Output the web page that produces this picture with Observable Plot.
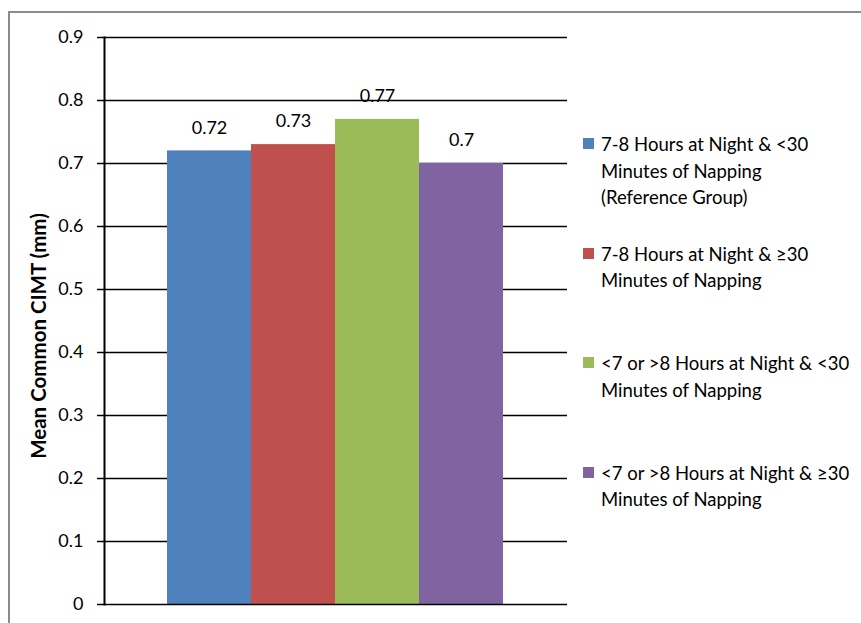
<!DOCTYPE html>
<html>
<head>
<meta charset="utf-8">
<script src="https://cdn.jsdelivr.net/npm/d3@7"></script>
<script src="https://cdn.jsdelivr.net/npm/@observablehq/plot@0.6"></script>
<style>
  body { margin: 0; background: #fff; }
  #wrap { position: relative; width: 861px; height: 623px; overflow: hidden; font-family: Lato, "Open Sans", sans-serif; }
  #border { position: absolute; left: 8px; top: 11px; width: 900px; height: 700px; border-left: 2px solid #8c8c8c; border-top: 2px solid #8c8c8c; box-sizing: border-box; }
  #chart { position: absolute; left: 0; top: 0; }
  #legend { position: absolute; left: 583px; top: 131px; }
  .item { position: relative; height: 109.5px; }
  .swatch { position: absolute; left: 0; top: 7px; width: 11px; height: 11px; }
  .label { position: absolute; left: 18px; top: 0; font-size: 18.5px; line-height: 26.5px; color: #000; white-space: nowrap; }
</style>
</head>
<body>
<div id="wrap">
  <div id="border"></div>
  <div id="chart"></div>
  <div id="legend"></div>
</div>
<script>
// Mean common carotid intima-media thickness by sleep / napping group
const groups = [
  "7-8 Hours at Night & <30 Minutes of Napping (Reference Group)",
  "7-8 Hours at Night & ≥30 Minutes of Napping",
  "<7 or >8 Hours at Night & <30 Minutes of Napping",
  "<7 or >8 Hours at Night & ≥30 Minutes of Napping"
];
const legendLines = [
  ["7-8 Hours at Night & <30", "Minutes of Napping", "(Reference Group)"],
  ["7-8 Hours at Night & ≥30", "Minutes of Napping"],
  ["<7 or >8 Hours at Night & <30", "Minutes of Napping"],
  ["<7 or >8 Hours at Night & ≥30", "Minutes of Napping"]
];
const cimt = [0.72, 0.73, 0.77, 0.7];
const colors = ["#4F81BD", "#C0504D", "#9BBB59", "#8064A2"];
const yTicks = [0, 0.1, 0.2, 0.3, 0.4, 0.5, 0.6, 0.7, 0.8, 0.9];

const data = groups.map((g, i) => ({group: g, value: cimt[i]}));

const chart = Plot.plot({
  width: 861,
  height: 623,
  marginLeft: 104,
  marginRight: 294,
  marginTop: 37,
  marginBottom: 19,
  style: {fontFamily: "Lato, 'Open Sans', sans-serif", fontSize: "18px", background: "transparent", color: "#000"},
  x: {domain: groups, range: [167, 503], padding: 0, axis: null},
  y: {domain: [0, 0.9], ticks: yTicks, label: null},
  color: {domain: groups, range: colors},
  marks: [
    Plot.ruleY(yTicks.slice(1), {stroke: "#000", strokeWidth: 1.5}),
    Plot.barY(data, {x: "group", y: "value", fill: "group"}),
    Plot.text(data, {x: "group", y: "value", text: d => String(d.value), dy: -23, fontSize: 18, fill: "#000"}),
    Plot.axisY({ticks: yTicks, tickSize: 7, tickPadding: 14, tickFormat: d => String(d), fontSize: 18, strokeWidth: 1.5, label: null}),
    Plot.frame({anchor: "left", stroke: "#000", strokeWidth: 2}),
    Plot.ruleY([0], {stroke: "#000", strokeWidth: 1.5}),
    Plot.text(["Mean Common CIMT (mm)"], {frameAnchor: "left", textAnchor: "middle", dx: -65, dy: 15, rotate: -90, fontWeight: "bold", fontSize: 20.5, fill: "#000"})
  ]
});
document.getElementById("chart").appendChild(chart);

// Legend built from the same groups and colours
const legend = d3.select("#legend");
legendLines.forEach((lines, i) => {
  const item = legend.append("div").attr("class", "item");
  item.append("div").attr("class", "swatch").style("background", colors[i]);
  item.append("div").attr("class", "label").html(lines.join("<br>"));
});
</script>
</body>
</html>
